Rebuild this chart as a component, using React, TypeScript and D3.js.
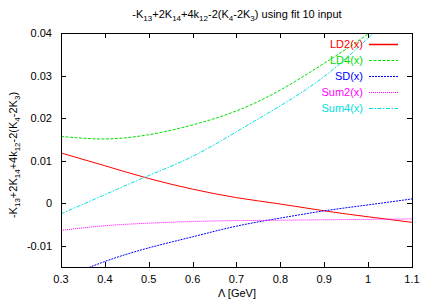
import React, { useEffect, useRef } from "react";
import * as d3 from "d3";

const lambda = [0.3, 0.4, 0.5, 0.6, 0.7, 0.8, 0.9, 1.0, 1.1];
const ld2 = [0.0118, 0.0088, 0.0058, 0.0033, 0.0013, -0.0002, -0.0018, -0.0032, -0.0045];
const ld4 = [0.0157, 0.0151, 0.0161, 0.0184, 0.0217, 0.0266, 0.0329, 0.0398, 0.048];
const sd = [-0.0178, -0.0137, -0.0105, -0.0079, -0.0054, -0.0035, -0.0018, -0.0004, 0.001];
const sum2 = [-0.0064, -0.0053, -0.0047, -0.0043, -0.0041, -0.004, -0.0039, -0.0038, -0.0037];
const sum4 = [-0.0025, 0.002, 0.0065, 0.011, 0.0168, 0.0229, 0.0298, 0.0388, 0.049];

const xTicks = [0.3, 0.4, 0.5, 0.6, 0.7, 0.8, 0.9, 1.0, 1.1];
const yTicks = [-0.01, 0, 0.01, 0.02, 0.03, 0.04];

const seriesNames = ["LD2(x)", "LD4(x)", "SD(x)", "Sum2(x)", "Sum4(x)"];
const seriesValues = [ld2, ld4, sd, sum2, sum4];
const colors = ["#ff0000", "#00e000", "#0000ff", "#ff00ff", "#00e0e0"];
const dashes = ["none", "3,1.5", "2,1", "1,1", "4,1.5,1.5,1.5"];

const App = () => {
  const svgRef = useRef<SVGSVGElement>(null);

  useEffect(() => {
    const width = 430;
    const height = 301;
    const margin = { top: 33, right: 18, bottom: 34, left: 61 };
    const w = width - margin.left - margin.right;
    const h = height - margin.top - margin.bottom;
    const font = "'Liberation Sans', Arial, sans-serif";

    const x = d3.scaleLinear().domain([0.3, 1.1]).range([0, w]);
    const y = d3.scaleLinear().domain([-0.015, 0.04]).range([h, 0]);

    const root = d3.select(svgRef.current);
    root.selectAll("*").remove();
    root.attr("width", width).attr("height", height);

    root
      .append("rect")
      .attr("width", width)
      .attr("height", height)
      .attr("fill", "#fff");

    const svg = root
      .append("g")
      .attr("transform", `translate(${margin.left},${margin.top})`);

    svg
      .append("defs")
      .append("clipPath")
      .attr("id", "plotclip")
      .append("rect")
      .attr("width", w)
      .attr("height", h);

    // ticks, mirrored on all four sides, pointing inward
    const tl = 5;
    xTicks.forEach((t) => {
      const px = Math.round(x(t)) + 0.5;
      svg.append("line").attr("x1", px).attr("x2", px).attr("y1", h).attr("y2", h - tl).attr("stroke", "#000");
      svg.append("line").attr("x1", px).attr("x2", px).attr("y1", 0).attr("y2", tl).attr("stroke", "#000");
      svg
        .append("text")
        .attr("x", x(t))
        .attr("y", h + 16)
        .attr("text-anchor", "middle")
        .style("font-family", font)
        .style("font-size", "11px")
        .text(d3.format("")(t));
    });
    yTicks.forEach((t) => {
      const py = Math.round(y(t)) + 0.5;
      svg.append("line").attr("x1", 0).attr("x2", tl).attr("y1", py).attr("y2", py).attr("stroke", "#000");
      svg.append("line").attr("x1", w).attr("x2", w - tl).attr("y1", py).attr("y2", py).attr("stroke", "#000");
      svg
        .append("text")
        .attr("x", -9)
        .attr("y", y(t) + 4)
        .attr("text-anchor", "end")
        .style("font-family", font)
        .style("font-size", "11px")
        .text(t === 0 ? "0" : String(t));
    });

    // curves
    const line = d3
      .line<number>()
      .x((_, i) => x(lambda[i]))
      .y((d) => y(d))
      .curve(d3.curveNatural);

    const curves = svg.append("g").attr("clip-path", "url(#plotclip)");
    seriesValues.forEach((vals, i) => {
      curves
        .append("path")
        .attr("d", line(vals))
        .attr("fill", "none")
        .attr("stroke", colors[i])
        .attr("stroke-width", 1)
        .attr("stroke-dasharray", dashes[i]);
    });

    // frame
    svg
      .append("rect")
      .attr("x", 0.5)
      .attr("y", 0.5)
      .attr("width", w)
      .attr("height", h)
      .attr("fill", "none")
      .attr("stroke", "#000");

    // legend
    seriesNames.forEach((name, i) => {
      const ly = 11 + i * 16;
      svg
        .append("text")
        .attr("x", 302)
        .attr("y", ly + 4)
        .attr("text-anchor", "end")
        .style("font-family", font)
        .style("font-size", "11px")
        .style("fill", colors[i])
        .text(name);
      svg
        .append("line")
        .attr("x1", 308)
        .attr("x2", 337)
        .attr("y1", ly + 0.5)
        .attr("y2", ly + 0.5)
        .attr("stroke", colors[i])
        .attr("stroke-width", i === 0 ? 1.5 : 1)
        .attr("stroke-dasharray", dashes[i]);
    });

    // label with subscripts: -K13+2K14+4k12-2(K4-2K3)
    const parts: [string, string][] = [
      ["-K", "13"],
      ["+2K", "14"],
      ["+4k", "12"],
      ["-2(K", "4"],
      ["-2K", "3"],
    ];
    const addFormula = (sel: any, tail: string) => {
      let shifted = false;
      parts.forEach(([a, b]) => {
        sel.append("tspan").attr("dy", shifted ? -3 : 0).text(a);
        sel.append("tspan").attr("dy", 3).style("font-size", "8px").text(b);
        shifted = true;
      });
      sel.append("tspan").attr("dy", -3).text(tail);
    };

    const title = root
      .append("text")
      .attr("x", 237)
      .attr("y", 18)
      .attr("text-anchor", "middle")
      .style("font-family", font)
      .style("font-size", "11px");
    addFormula(title, ") using fit 10 input");

    const ylab = root
      .append("text")
      .attr("transform", "translate(17,155) rotate(-90)")
      .attr("text-anchor", "middle")
      .style("font-family", font)
      .style("font-size", "11px");
    addFormula(ylab, ")");

    root
      .append("text")
      .attr("x", 237)
      .attr("y", 297)
      .attr("text-anchor", "middle")
      .style("font-family", font)
      .style("font-size", "11px")
      .text("Λ [GeV]");
  }, []);

  return <svg ref={svgRef} style={{ position: "absolute", left: 0, top: 0 }}></svg>;
};

export default App;
